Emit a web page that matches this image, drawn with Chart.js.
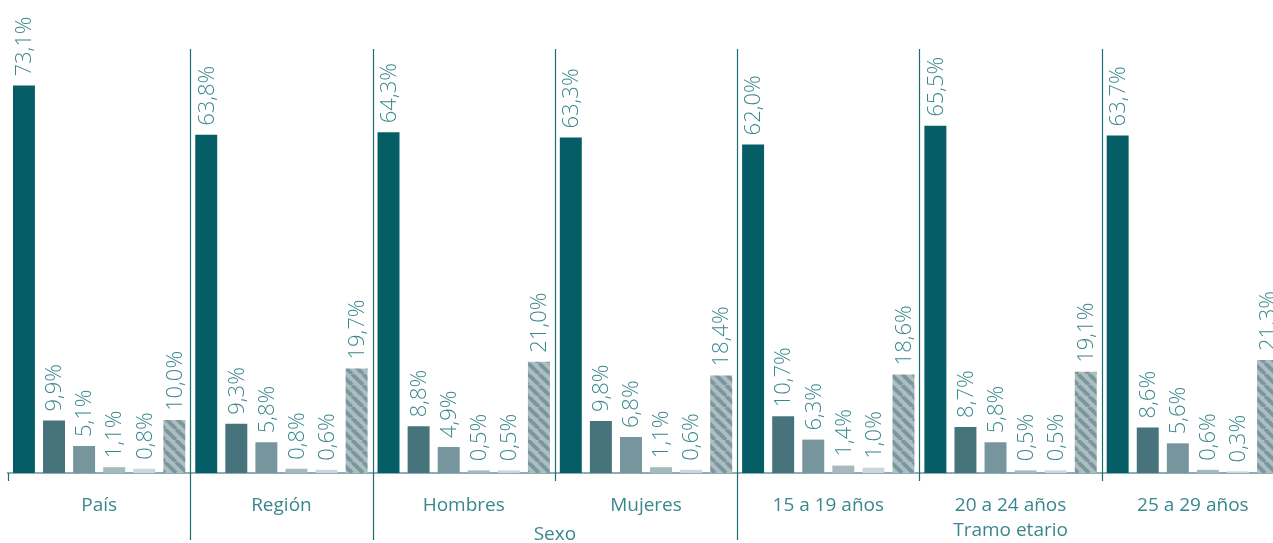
<!DOCTYPE html>
<html>
<head>
<meta charset="utf-8">
<script src="https://cdn.jsdelivr.net/npm/chart.js@4.4.1/dist/chart.umd.min.js"></script>
<style>
  html, body { margin: 0; padding: 0; background: #ffffff; overflow: hidden; }
  #wrap { position: relative; width: 1290px; height: 543px; }
</style>
</head>
<body>
<div id="wrap"><canvas id="c"></canvas></div>
<script>
// ---- data ----
const categories = ["País", "Región", "Hombres", "Mujeres", "15 a 19 años", "20 a 24 años", "25 a 29 años"];
const serie1 = [73.1, 63.8, 64.3, 63.3, 62.0, 65.5, 63.7];
const serie2 = [9.9, 9.3, 8.8, 9.8, 10.7, 8.7, 8.6];
const serie3 = [5.1, 5.8, 4.9, 6.8, 6.3, 5.8, 5.6];
const serie4 = [1.1, 0.8, 0.5, 1.1, 1.4, 0.5, 0.6];
const serie5 = [0.8, 0.6, 0.5, 0.6, 1.0, 0.5, 0.3];
const serie6 = [10.0, 19.7, 21.0, 18.4, 18.6, 19.1, 21.3];
const groupLabels = [
  { text: "Sexo", from: 2, to: 3 },
  { text: "Tramo etario", from: 4, to: 6 }
];
// boundaries with long ticks (index of boundary: 0 = left edge, i = between cat i-1 and i)
const longTicks = [1, 2, 4, 7];

const TEXT = "#3a878d";
const FONT = "'Open Sans', 'Noto Sans', sans-serif";

function hatch(dark, light) {
  const s = 11;
  const p = document.createElement('canvas');
  p.width = s; p.height = s;
  const g = p.getContext('2d');
  g.fillStyle = light;
  g.fillRect(0, 0, s, s);
  g.strokeStyle = dark;
  g.lineWidth = 3.8;
  g.beginPath();
  for (let k = -2; k <= 2; k++) {
    g.moveTo(k * s, 0);
    g.lineTo(k * s + s, s);
  }
  g.stroke();
  return g.createPattern(p, 'repeat');
}

const valueLabels = {
  id: 'valueLabels',
  afterDatasetsDraw(chart) {
    const ctx = chart.ctx;
    ctx.save();
    ctx.fillStyle = TEXT;
    ctx.font = "300 22px " + FONT;
    chart.data.datasets.forEach((ds, di) => {
      const meta = chart.getDatasetMeta(di);
      meta.data.forEach((el, i) => {
        const v = ds.data[i];
        const txt = v.toFixed(1).replace('.', ',') + '%';
        ctx.save();
        ctx.translate(el.x, el.y - 9);
        ctx.rotate(-Math.PI / 2);
        ctx.textAlign = 'left';
        ctx.textBaseline = 'middle';
        ctx.fillText(txt, 0, 1);
        ctx.restore();
      });
    });
    ctx.restore();
  }
};

const separators = {
  id: 'separators',
  afterDraw(chart) {
    const ctx = chart.ctx;
    const xs = chart.scales.x;
    const area = chart.chartArea;
    const n = categories.length;
    const half = (xs.getPixelForValue(1) - xs.getPixelForValue(0)) / 2;
    ctx.save();
    ctx.strokeStyle = "#1c6c72";
    ctx.lineWidth = 1.2;
    for (let b = 0; b <= n; b++) {
      const x = Math.round(xs.getPixelForValue(b) - half) + 0.5;
      const top = b === 0 ? area.bottom : area.top;
      const bottom = longTicks.includes(b) ? area.bottom + 67 : area.bottom + 8;
      ctx.beginPath();
      ctx.moveTo(x, top);
      ctx.lineTo(x, bottom);
      ctx.stroke();
    }
    // group labels
    ctx.fillStyle = TEXT;
    ctx.font = "19px " + FONT;
    ctx.textAlign = 'center';
    ctx.textBaseline = 'middle';
    groupLabels.forEach((gl, k) => {
      const x = (xs.getPixelForValue(gl.from) + xs.getPixelForValue(gl.to)) / 2;
      ctx.fillText(gl.text, x, area.bottom + (k === 0 ? 62 : 58));
    });
    ctx.restore();
  }
};

const ctx = document.getElementById('c').getContext('2d');
const hatchFill = hatch("#7a979d", "#adbdc1");

new Chart(ctx, {
  type: 'bar',
  data: {
    labels: categories,
    datasets: [
      { data: serie1, backgroundColor: "#055e66" },
      { data: serie2, backgroundColor: "#47737c" },
      { data: serie3, backgroundColor: "#77959c" },
      { data: serie4, backgroundColor: "#a8b9bd" },
      { data: serie5, backgroundColor: "#cdd7d9" },
      { data: serie6, backgroundColor: hatchFill }
    ]
  },
  options: {
    responsive: true,
    maintainAspectRatio: false,
    animation: false,
    devicePixelRatio: 1,
    layout: { padding: { left: 8, right: 6, top: 49, bottom: 0 } },
    datasets: { bar: { categoryPercentage: 0.99, barPercentage: 0.73 } },
    plugins: { legend: { display: false }, tooltip: { enabled: false } },
    scales: {
      y: { display: false, min: 0, max: 80 },
      x: {
        grid: { display: false, drawTicks: false },
        border: { display: true, color: "#8ab0b3", width: 2 },
        ticks: {
          color: TEXT,
          font: { family: FONT, size: 19 },
          padding: 21,
          maxRotation: 0,
          autoSkip: false
        },
        afterFit(scale) { scale.height = 70; }
      }
    }
  },
  plugins: [valueLabels, separators]
});
</script>
</body>
</html>
